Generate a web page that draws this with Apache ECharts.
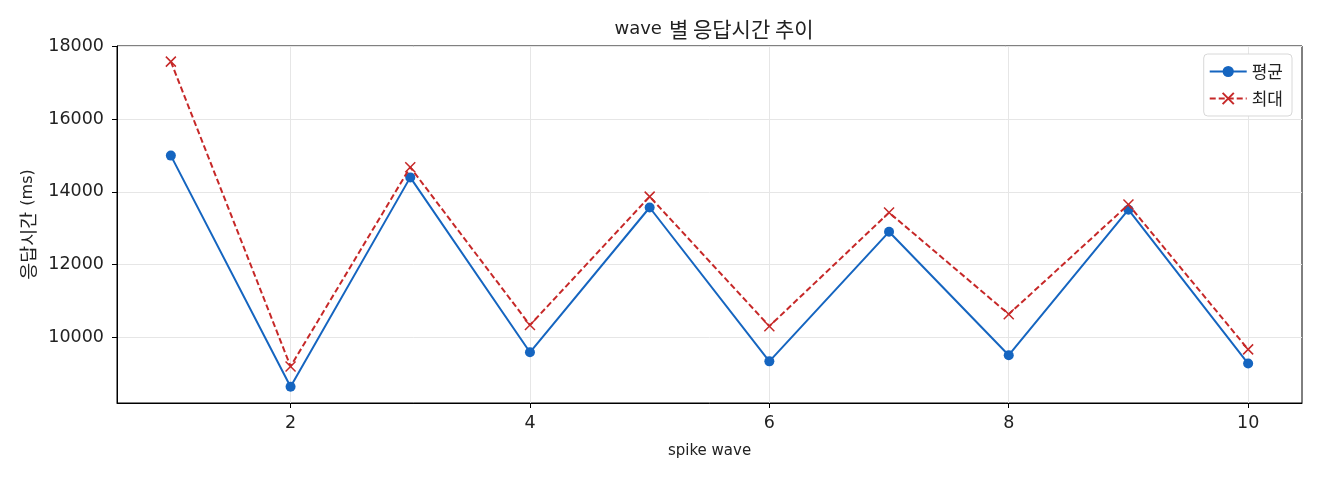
<!DOCTYPE html>
<html>
<head>
<meta charset="utf-8">
<script src="https://cdn.jsdelivr.net/npm/echarts@6/dist/echarts.min.js"></script>
<style>
	html, body { margin: 0; padding: 0; background: #fff; }
	#chart { width: 1320px; height: 480px; }
</style>
</head>
<body>
<div id="chart"></div>
<script>
// wave numbers and response times (ms)
var waves = [1, 2, 3, 4, 5, 6, 7, 8, 9, 10];
var avg_ms = [15000, 8630, 14400, 9580, 13570, 9330, 12900, 9500, 13510, 9270];
var max_ms = [17590, 9190, 14680, 10330, 13870, 10300, 13430, 10630, 13650, 9660];

var series_names = ['평균', '최대'];

var latin = '"DejaVu Sans", sans-serif';
var hangul = '"Noto Sans CJK KR", sans-serif';
var ink = '#222';

function pairs(xs, ys) {
	var out = [];
	for (var i = 0; i < xs.length; i++) {
		out.push([xs[i], ys[i]]);
	}
	return out;
}

function only_multiple(step) {
	return function (v) {
		var r = Math.round(v / step) * step;
		return Math.abs(r - v) < 1e-6 ? String(r) : '';
	};
}

var myChart = echarts.init(document.getElementById('chart'));

var option = {
	animation: false,
	backgroundColor: '#fff',
	textStyle: { fontFamily: latin },
	title: {
		text: '{l|wave}{s| }{k|별 응답시간 추이}',
		left: 709,
		textAlign: 'center',
		top: 14,
		textStyle: {
			fontWeight: 'normal',
			rich: {
				l: { fontFamily: latin, fontSize: 18, color: ink },
				s: { fontFamily: latin, fontSize: 18, width: 7 },
				k: { fontFamily: hangul, fontSize: 21, color: ink }
			}
		}
	},
	legend: {
		orient: 'vertical',
		right: 28,
		top: 54,
		itemWidth: 37,
		itemHeight: 14,
		itemGap: 10,
		padding: [9, 9, 9, 5],
		backgroundColor: '#fff',
		borderColor: '#d8d8d8',
		borderWidth: 1,
		borderRadius: 4,
		textStyle: { fontFamily: hangul, fontSize: 17, color: ink },
		data: series_names
	},
	grid: {
		left: 117,
		right: 18,
		top: 46,
		bottom: 77,
		show: true,
		borderColor: '#000',
		borderWidth: 1
	},
	xAxis: {
		type: 'value',
		min: 0.55,
		max: 10.45,
		splitNumber: 5,
		name: 'spike wave',
		nameLocation: 'middle',
		nameGap: 41,
		nameTextStyle: { fontFamily: latin, fontSize: 15, color: ink },
		axisLine: { show: true, onZero: false, lineStyle: { color: '#000' } },
		axisTick: { show: true, length: 5, lineStyle: { color: '#000' } },
		axisLabel: {
			showMinLabel: false, showMaxLabel: false,
			fontSize: 17.5, color: ink, margin: 11,
			formatter: only_multiple(2)
		},
		splitLine: { show: true, showMinLine: false, showMaxLine: false, lineStyle: { color: '#e6e6e6' } }
	},
	yAxis: {
		type: 'value',
		min: 8183,
		max: 18020,
		splitNumber: 5,
		name: '{k|응답시간}{s| }{l|(ms)}',
		nameLocation: 'middle',
		nameGap: 80,
		nameTextStyle: {
			rich: {
				l: { fontFamily: latin, fontSize: 16, color: ink },
				s: { fontFamily: latin, fontSize: 16, width: 6 },
				k: { fontFamily: hangul, fontSize: 18.5, color: ink }
			}
		},
		axisLine: { show: true, lineStyle: { color: '#000' } },
		axisTick: { show: true, length: 5, lineStyle: { color: '#000' } },
		axisLabel: {
			showMinLabel: false, showMaxLabel: false,
			fontSize: 17.5, color: ink, margin: 13,
			formatter: only_multiple(2000)
		},
		splitLine: { show: true, showMinLine: false, showMaxLine: false, lineStyle: { color: '#e6e6e6' } }
	},
	series: [
		{
			name: series_names[0],
			type: 'line',
			data: pairs(waves, avg_ms),
			symbol: 'circle',
			symbolSize: 10,
			color: '#1565C0',
			lineStyle: { width: 2, color: '#1565C0' },
			itemStyle: { color: '#1565C0' },
			z: 3
		},
		{
			name: series_names[1],
			type: 'line',
			data: pairs(waves, max_ms),
			symbol: 'path://M0,0L10,10M10,0L0,10',
			symbolSize: 10,
			color: '#C62828',
			lineStyle: { width: 2, type: [6, 3], color: '#C62828' },
			itemStyle: { color: 'none', borderColor: '#C62828', borderWidth: 1.5 },
			z: 4
		}
	]
};

myChart.setOption(option);
</script>
</body>
</html>
